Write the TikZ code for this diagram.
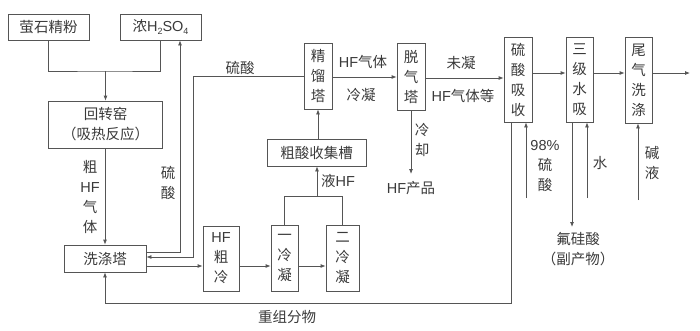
\documentclass[tikz,border=0pt]{standalone}
\usepackage{fontspec}
\setmainfont{Liberation Sans}
\newfontfamily\cjk{Noto Sans CJK SC}
\newfontfamily\lt{Liberation Sans}
\usetikzlibrary{arrows.meta}
\definecolor{ln}{HTML}{555555}
\definecolor{tx}{HTML}{3A3A3A}
\newcommand\sub[1]{\raisebox{-2.5pt}{\fontsize{9}{9}\selectfont #1}}
\begin{document}
\begin{tikzpicture}[x=1pt,y=-1pt,
  every node/.style={font=\fontsize{14.5}{20}\selectfont\cjk, text=tx, inner sep=0pt, align=center},
  box/.style={draw=ln, line width=0.8pt},
  flow/.style={draw=ln, line width=0.8pt},
  arr/.style={flow, -{Latex[length=5pt,width=4pt]}},
  vlab/.style={font=\fontsize{14.5}{20}\selectfont\cjk}]
\useasboundingbox (0,0) rectangle (700,330);
% boxes
\node[box, minimum width=81pt, minimum height=26pt] (fluor) at (48.5,27) {萤石精粉};
\node[box, minimum width=81pt, minimum height=26pt] (acid) at (160.5,27) {浓{\lt H\sub{2}SO\sub{4}}};
\node[box, minimum width=114pt, minimum height=47pt] (kiln) at (105.5,124.5) {回转窑\\（吸热反应）};
\node[box, minimum width=82pt, minimum height=27pt] (wash) at (105,258.5) {洗涤塔};
\node[box, minimum width=36pt, minimum height=65pt] (crude) at (221,258.5) {{\lt HF}\\粗\\冷};
\node[box, minimum width=27pt, minimum height=66pt] (c1) at (284.5,258) {一\\冷\\凝};
\node[box, minimum width=33pt, minimum height=66pt] (c2) at (342.5,258) {二\\冷\\凝};
\node[box, minimum width=99pt, minimum height=27pt] (tank) at (316.5,152.5) {粗酸收集槽};
\node[box, minimum width=28pt, minimum height=66pt] (rect) at (318,76) {精\\馏\\塔};
\node[box, minimum width=28pt, minimum height=67pt] (degas) at (411,76.5) {脱\\气\\塔};
\node[box, minimum width=28pt, minimum height=85pt] (sabs) at (518,79.5) {硫\\酸\\吸\\收};
\node[box, minimum width=27pt, minimum height=85pt] (wabs) at (579.5,79.5) {三\\级\\水\\吸};
\node[box, minimum width=27pt, minimum height=86pt] (tail) at (638.5,80) {尾\\气\\洗\\涤};
% free ends
\coordinate (m) at (105.5,71);
\coordinate (hfp) at (411,174);
\coordinate (out) at (690,73);
\coordinate (in98) at (526,198);
\coordinate (inw) at (587,198);
\coordinate (inb) at (638,200);
\coordinate (fsa) at (572,227);
\coordinate (jn) at (317,196);
% connectors
\draw[flow] (fluor.south) |- (m) -| (acid.south);
\draw[arr] (m) -- (kiln.north);
\draw[arr] (kiln.south -| wash.north) -- (wash.north);
\draw[arr] (wash.east |- 0,252) -| (acid.south -| 180,0);
\draw[arr] (rect.west |- 0,76) -| (193,257) -- (wash.east |- 0,257);
\draw[arr] (wash.east |- 0,266) -- (crude.west |- 0,266);
\draw[arr] (crude.east |- 0,266) -- (c1.west |- 0,266);
\draw[arr] (c1.east |- 0,266) -- (c2.west |- 0,266);
\draw[flow] (c1.north) -- (c1.north |- jn) -- (c2.north |- jn) -- (c2.north);
\draw[arr] (jn) -- (tank.south -| jn);
\draw[arr] (tank.north -| rect.south) -- (rect.south);
\draw[arr] (rect.east |- 0,77) -- (degas.west |- 0,77);
\draw[arr] (degas.south) -- (hfp);
\draw[arr] (degas.east |- 0,78) -- (sabs.west |- 0,78);
\draw[arr] (sabs.east |- 0,73) -- (wabs.west |- 0,73);
\draw[arr] (wabs.east |- 0,73) -- (tail.west |- 0,73);
\draw[arr] (tail.east |- 0,73) -- (out);
\draw[arr] (in98) -- (sabs.south -| in98);
\draw[arr] (inw) -- (wabs.south -| inw);
\draw[arr] (inb) -- (tail.south -| inb);
\draw[arr] (wabs.south -| fsa) -- (fsa);
\draw[arr] (sabs.south -| 511,0) -- (511,303) -| (wash.south);
% labels
\node[vlab] (l1) at (90,197) {粗\\{\lt HF}\\气\\体};
\node[vlab] (l2) at (168,183) {硫\\酸};
\node (l3) at (240,68) {硫酸};
\node (l4) at (363,62) {{\lt HF}气体};
\node (l5) at (361,95) {冷凝};
\node (l6) at (461,63) {未凝};
\node (l7) at (463,96) {{\lt HF}气体等};
\node[vlab] (l8) at (422,140) {冷\\却};
\node (l9) at (411,188) {{\lt HF}产品};
\node (l10) at (338,181) {液{\lt HF}};
\node[vlab] (l11) at (545,166) {{\lt 98\%}\\硫\\酸};
\node (l12) at (600,163) {水};
\node[vlab] (l13) at (652,163) {碱\\液};
\node (l14) at (578,249) {氟硅酸\\（副产物）};
\node (l15) at (287,317) {重组分物};
\end{tikzpicture}
\end{document}
